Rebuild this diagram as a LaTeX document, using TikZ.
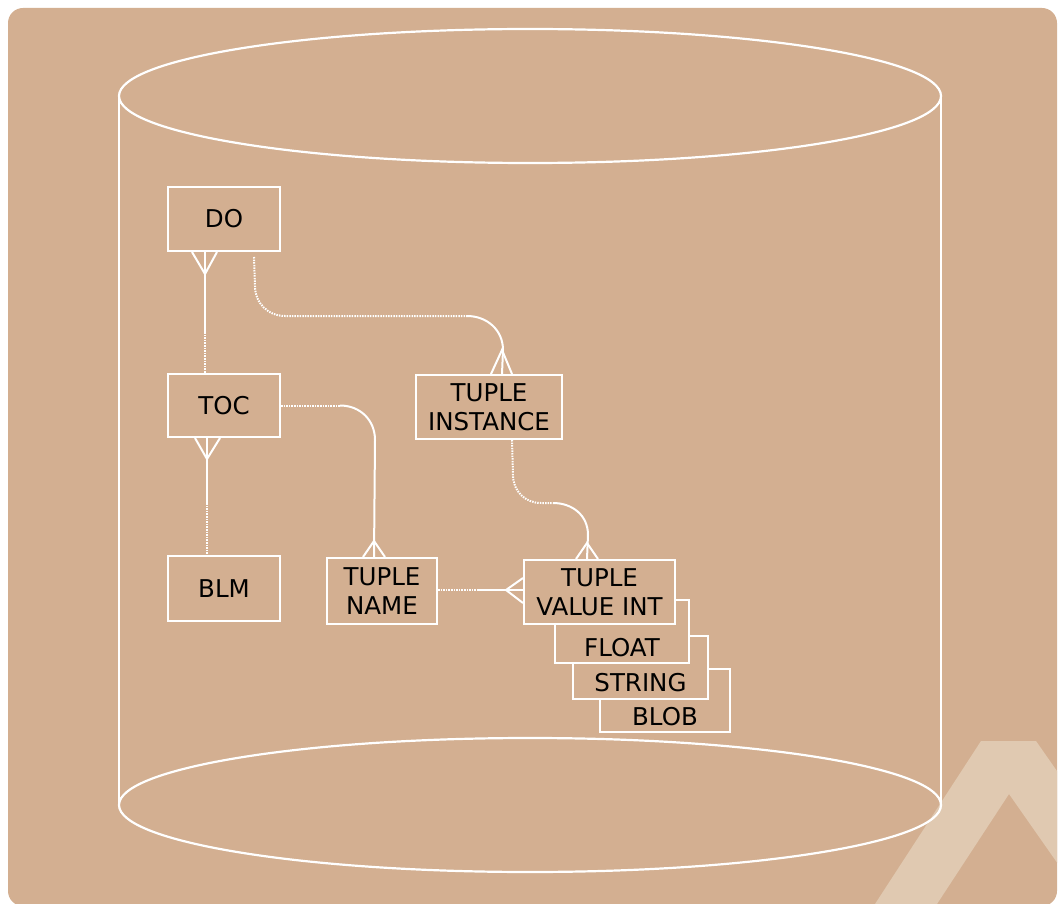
\documentclass[tikz,border=0pt]{standalone}
\usepackage{fontspec}
\setmainfont{DejaVu Sans}
\usetikzlibrary{calc}
\definecolor{bgc}{HTML}{D3AF91}
\definecolor{logoc}{HTML}{E0C9B1}
\begin{document}
\begin{tikzpicture}[x=1pt,y=-1pt,
  wl/.style={draw=white,line width=2pt},
  dl/.style={draw=white,line width=2pt,dash pattern=on 1.5pt off 1.1pt},
  ent/.style={draw=white,line width=2pt,fill=bgc,inner sep=0pt,align=center,
    font=\fontsize{24.5}{28.5}\selectfont,text=black},
  stk/.style={ent,text height=56pt,text depth=7pt}]
\useasboundingbox (0,0) rectangle (1058,904);
% background
\fill[bgc,rounded corners=15pt] (8,8) rectangle (1057,906);
% logo
\begin{scope}
\clip[rounded corners=15pt] (8,8) rectangle (1057,906);
\fill[logoc] (875,904) -- (981,741) -- (1036,741) -- (1150,904) -- (1086,904) -- (1009,794) -- (937,904) -- cycle;
\end{scope}
% cylinder
\draw[white,line width=2.2pt] (530,96) ellipse [x radius=411pt, y radius=67pt];
\draw[white,line width=2.2pt] (530,805) ellipse [x radius=411pt, y radius=67pt];
\draw[white,line width=2.2pt] (119,96) -- (119,805);
\draw[white,line width=2.2pt] (941,96) -- (941,805);
% entities
\node[ent,minimum width=112pt,minimum height=64pt] (DO) at (224,219) {DO};
\node[ent,minimum width=112pt,minimum height=63pt] (TOC) at (224,405.5) {TOC};
\node[ent,minimum width=112pt,minimum height=65pt] (BLM) at (224,588.5) {BLM};
\node[ent,minimum width=146pt,minimum height=64pt] (TI) at (489,407) {TUPLE\\INSTANCE};
\node[ent,minimum width=110pt,minimum height=66pt] (TN) at (382,591) {TUPLE\\NAME};
\node[stk,minimum width=130pt,minimum height=63pt] (BLOB) at (665,700.5) {BLOB};
\node[stk,minimum width=135pt,minimum height=63pt] (STR) at (640.5,667) {STRING};
\node[stk,minimum width=134pt,minimum height=63pt] (FLT) at (622,631.5) {FLOAT};
\node[ent,minimum width=151pt,minimum height=64pt] (TV) at (599.5,592) {TUPLE\\VALUE INT};
% DO - TOC
\coordinate (a1) at ($(DO.south west)+(38,0)$);
\draw[wl] (a1) -- ++(0,80) coordinate (a2);
\draw[dl] (a2) -- (a2 |- TOC.north);
\draw[wl] ($(a1)+(-13,0)$) -- ($(a1)+(0,22)$) -- ($(a1)+(12,0)$);
% TOC - BLM
\coordinate (b1) at ($(TOC.south west)+(40,0)$);
\draw[wl] (b1) -- ++(0,65) coordinate (b2);
\draw[dl] (b2) -- (b2 |- BLM.north);
\draw[wl] ($(b1)+(-12,0)$) -- ($(b1)+(0,21)$) -- ($(b1)+(13,0)$);
% DO - TUPLE INSTANCE
\coordinate (c1) at ($(DO.south west)+(87,5)$);
\coordinate (c2) at ($(TI.north west)+(87,0)$);
\draw[dl] (c1) -- (255,286) .. controls (255,303) and (268,316) .. (285,316) -- (467,316) coordinate (c3);
\draw[wl] (c3) .. controls (487,316) and (503,330) .. (503,350) -- (c2);
\draw[wl] ($(c2)+(-11,0)$) -- ($(c2)+(0,-24)$) -- ($(c2)+(10,0)$);
% TOC - TUPLE NAME
\coordinate (d1) at (TOC.east);
\coordinate (d2) at ($(TN.north west)+(48,0)$);
\draw[dl] (d1) -- (340,405.5) coordinate (d3);
\draw[wl] (d3) .. controls (360,405.5) and (375,420) .. (375,440) -- (d2);
\draw[wl] ($(d2)+(-11,0)$) -- ($(d2)+(0,-16)$) -- ($(d2)+(11,0)$);
% TUPLE INSTANCE - TUPLE VALUE
\coordinate (e1) at ($(TI.south west)+(97,0)$);
\coordinate (e2) at ($(TV.north west)+(64,0)$);
\draw[dl] (e1) -- (513,475) .. controls (513,491) and (525,503) .. (541,503) -- (553,503) coordinate (e3);
\draw[wl] (e3) .. controls (572,503) and (588,515) .. (588,535) -- (e2);
\draw[wl] ($(e2)+(-11,0)$) -- ($(e2)+(0,-16)$) -- ($(e2)+(11,0)$);
% TUPLE NAME - TUPLE VALUE
\coordinate (f1) at ($(TN.east)+(0,-1)$);
\coordinate (f2) at ($(TV.west)+(0,-2)$);
\draw[dl] (f1) -- (477,590) coordinate (f3);
\draw[wl] (f3) -- (f2);
\draw[wl] ($(f2)+(0,-12)$) -- ($(f2)+(-17,0)$) -- ($(f2)+(0,13)$);
\end{tikzpicture}
\end{document}
